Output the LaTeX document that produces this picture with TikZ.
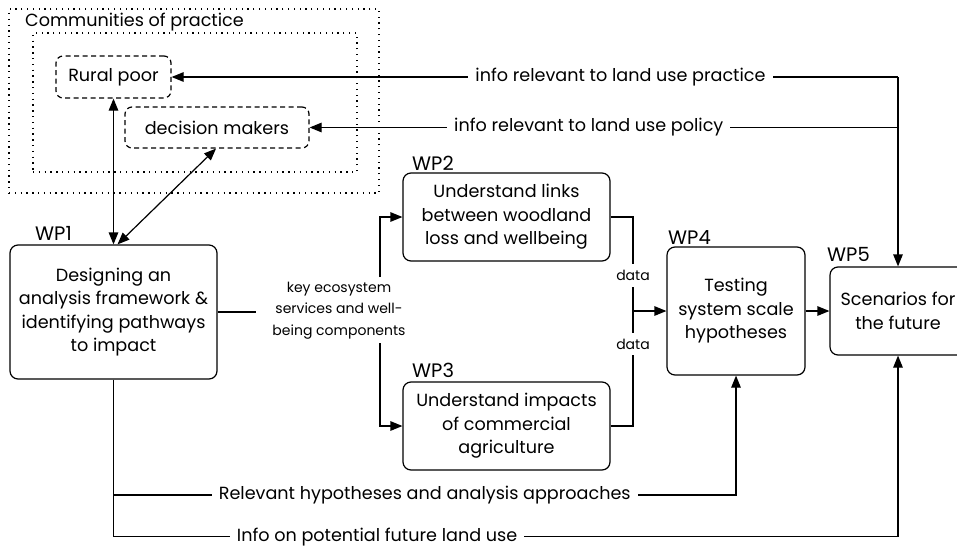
\documentclass[tikz,border=0pt]{standalone}
\usepackage{fontspec}
\setmainfont{Poppins}
\usetikzlibrary{arrows.meta,calc}
\tikzset{
  big/.style={font=\fontsize{17.6}{23.5}\selectfont},
  small/.style={font=\fontsize{14}{21.5}\selectfont},
  wpbox/.style={draw, line width=1.2pt, rounded corners=8pt, align=center, big, inner sep=0pt},
  dbox/.style={draw, line width=1.2pt, rounded corners=7pt, dash pattern=on 5pt off 3.5pt, big, inner sep=0pt},
  dotbox/.style={draw, line width=1.2pt, dash pattern=on 1.3pt off 4.5pt, inner sep=0pt},
  conn/.style={line width=1.2pt},
  arr/.style={conn, -{Triangle[length=12pt,width=9.5pt]}},
  darr/.style={conn, {Triangle[length=12pt,width=9.5pt]}-{Triangle[length=12pt,width=9.5pt]}},
  wplabel/.style={font=\fontsize{19.5}{23}\selectfont, anchor=west, inner sep=0pt},
  gap/.style={fill=white, inner xsep=7pt, inner ysep=0pt, big},
  sgap/.style={fill=white, inner xsep=0pt, inner ysep=6pt, small}
}
\begin{document}
\begin{tikzpicture}[x=1pt,y=-1pt]
\useasboundingbox (0,0) rectangle (957,546);
% containers
\node[dotbox, minimum width=370pt, minimum height=184pt] (outer) at (194,101) {};
\node[dotbox, minimum width=324pt, minimum height=139pt] (inner) at (195,102.5) {};
\node[big, anchor=west, inner sep=0pt] (cop) at (25,22) {Communities of practice};
\node[dbox, minimum width=115pt, minimum height=42pt] (rp) at (113.5,77) {Rural poor};
\node[dbox, minimum width=184pt, minimum height=41pt] (dm) at (217,127.5) {decision makers};
% work packages
\node[wpbox, minimum width=207pt, minimum height=134pt] (wp1) at (113.5,312) {Designing an\\analysis framework \&\\identifying pathways\\to impact};
\node[wpbox, minimum width=207pt, minimum height=88pt] (wp2) at (506.5,217) {Understand links\\between woodland\\loss and wellbeing};
\node[wpbox, minimum width=207pt, minimum height=88pt] (wp3) at (506.5,426) {Understand impacts\\of commercial\\agriculture};
\node[wpbox, minimum width=138pt, minimum height=128pt] (wp4) at (736,311) {Testing\\system scale\\hypotheses};
\node[wpbox, minimum width=136pt, minimum height=88pt] (wp5) at (898,311) {Scenarios for\\the future};
\node[wplabel] (l1) at (35,233) {WP1};
\node[wplabel] (l2) at (412,163) {WP2};
\node[wplabel] (l3) at (412,370) {WP3};
\node[wplabel] (l4) at (668,238) {WP4};
\node[wplabel] (l5) at (827,254) {WP5};
% community links
\draw[darr] (rp.south) -- (rp.south |- wp1.north);
\draw[darr] ([xshift=-1pt]dm.south) -- ([xshift=4pt]wp1.north);
\coordinate (c1) at (wp5.north |- rp.east);
\coordinate (c2) at (wp5.north |- dm.east);
\draw[arr] (c1) -- node[gap, pos=0.382] (t1) {info relevant to land use practice} (rp.east);
\draw[arr] (c2) -- node[gap, pos=0.5255] (t2) {info relevant to land use policy} (dm.east);
\draw[arr] (c1) -- (wp5.north);
% key ecosystem services
\node[small, align=center, inner sep=0pt] (kes) at (339,310.5) {key ecosystem\\services and well-\\being components};
\draw[conn] (wp1.east) -- ++(38,0);
\coordinate (split) at (380,311);
\draw[arr] (split |- 0,277) |- (wp2.west);
\draw[arr] (split |- 0,343) |- (wp3.west);
% data
\coordinate (join) at (633,311);
\draw[conn] (wp2.east) -| node[sgap, pos=0.81] (d1) {data} (join);
\draw[conn] (wp3.east) -| node[sgap, pos=0.857] (d2) {data} (join);
\draw[arr] (join) -- (wp4.west);
\draw[arr] (wp4.east) -- (wp5.west);
% bottom feedback
\draw[arr] (wp1.south) |- node[gap, pos=0.668] (t4) {Info on potential future land use} ($(wp5.south)+(0,181)$) -- (wp5.south);
\draw[arr] (wp1.south |- 0,495) -| node[gap, pos=0.25] (t3) {Relevant hypotheses and analysis approaches} (wp4.south);
\end{tikzpicture}
\end{document}
